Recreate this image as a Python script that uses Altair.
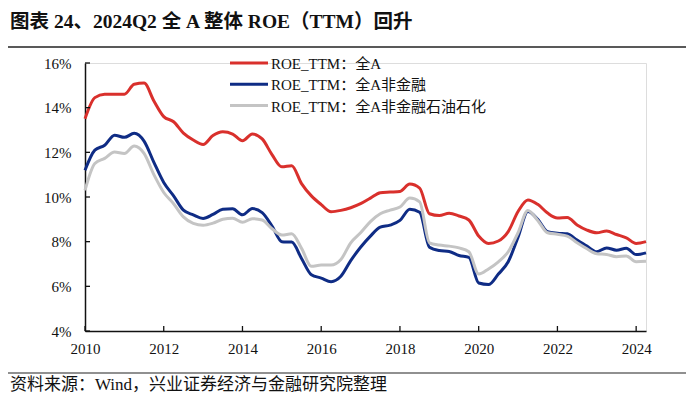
import altair as alt
import pandas as pd

years = [2010 + 0.25 * i for i in range(58)]

series_names = ["ROE_TTM：全A", "ROE_TTM：全A非金融", "ROE_TTM：全A非金融石油石化"]

roe_all = [13.5, 14.45, 14.6, 14.6, 14.6, 15.05, 15.1, 14.3, 13.6, 13.37,
           12.86, 12.55, 12.35, 12.75, 12.92, 12.82, 12.52, 12.82, 12.6, 11.9,
           11.35, 11.4, 10.6, 10.05, 9.66, 9.34, 9.4, 9.52, 9.7, 9.95,
           10.19, 10.22, 10.25, 10.58, 10.4, 9.25, 9.17, 9.27, 9.15, 8.97,
           8.25, 7.92, 8.03, 8.45, 9.35, 9.87, 9.67, 9.28, 9.06, 9.08,
           8.75, 8.52, 8.4, 8.48, 8.32, 8.17, 7.92, 8.0]

roe_nonfin = [11.2, 12.1, 12.32, 12.77, 12.67, 12.85, 12.5, 11.55, 10.65, 10.05,
              9.41, 9.2, 9.04, 9.22, 9.45, 9.47, 9.2, 9.48, 9.3, 8.7,
              8.0, 7.98, 7.25, 6.52, 6.37, 6.21, 6.45, 7.15, 7.75, 8.25,
              8.65, 8.74, 8.95, 9.45, 9.32, 7.75, 7.6, 7.56, 7.38, 7.3,
              6.15, 6.08, 6.55, 7.1, 8.2, 9.35, 9.0, 8.45, 8.38, 8.35,
              8.07, 7.8, 7.55, 7.72, 7.62, 7.7, 7.42, 7.5]

roe_nonfin_nonpetro = [10.3, 11.5, 11.73, 12.02, 11.95, 12.28, 11.95, 11.0, 10.2, 9.7,
                       9.11, 8.82, 8.74, 8.83, 9.0, 9.05, 8.87, 9.03, 8.97, 8.58,
                       8.3, 8.35, 7.7, 6.9, 6.95, 6.95, 7.2, 7.95, 8.4, 8.9,
                       9.25, 9.41, 9.55, 9.95, 9.78, 7.95, 7.85, 7.8, 7.72, 7.55,
                       6.55, 6.78, 7.1, 7.55, 8.4, 9.4, 8.95, 8.4, 8.33, 8.25,
                       7.95, 7.68, 7.46, 7.43, 7.33, 7.36, 7.1, 7.12]

x_ticks = [2010, 2012, 2014, 2016, 2018, 2020, 2022, 2024]
y_ticks = [4, 6, 8, 10, 12, 14, 16]
colors = ["#D9302C", "#0F2C85", "#C4C4C4"]

title_text = "图表 24、2024Q2 全 A 整体 ROE（TTM）回升"
source_text = "资料来源：Wind，兴业证券经济与金融研究院整理"

rows = []
for name, vals in zip(series_names, [roe_all, roe_nonfin, roe_nonfin_nonpetro]):
    for t, v in zip(years, vals):
        rows.append({"t": t, "v": v, "s": name})
df = pd.DataFrame(rows)

SERIF = "Liberation Serif, Noto Sans CJK SC"
W, H = 561, 268

xscale = alt.Scale(domain=[2010, 2024.25], nice=False, zero=False)
yscale = alt.Scale(domain=[4, 16], nice=False, zero=False)

lines = alt.Chart(df).mark_line(strokeWidth=3, interpolate="monotone").encode(
    x=alt.X("t:Q", scale=xscale,
            axis=alt.Axis(values=x_ticks, format="d", title=None, grid=False,
                          ticks=False, labelFont=SERIF, labelFontSize=15,
                          labelColor="#111", labelPadding=10, labelFlush=False,
                          domainColor="#111", domainWidth=1.5)),
    y=alt.Y("v:Q", scale=yscale,
            axis=alt.Axis(values=y_ticks, title=None, grid=False, ticks=False,
                          labelExpr="datum.value + '%'", labelFont=SERIF,
                          labelFontSize=15, labelColor="#111", labelPadding=14,
                          labelFlush=False,
                          domainColor="#111", domainWidth=1.5)),
    color=alt.Color("s:N", scale=alt.Scale(domain=series_names, range=colors),
                    legend=None),
    order=alt.Order("t:Q"),
)

xt = pd.DataFrame({"t": x_ticks})
yt = pd.DataFrame({"v": y_ticks})

xtick_marks = alt.Chart(xt).mark_rule(color="#111", strokeWidth=1.3).encode(
    x=alt.X("t:Q", scale=xscale), y=alt.value(H), y2=alt.value(H - 5))
ytick_marks = alt.Chart(yt).mark_rule(color="#111", strokeWidth=1.3).encode(
    y=alt.Y("v:Q", scale=yscale), x=alt.value(0), x2=alt.value(5))

# manual legend (three rows)
legend_layers = []
for i, (name, col) in enumerate(zip(series_names, colors)):
    d = pd.DataFrame({"s": [name]})
    legend_layers.append(alt.Chart(d).mark_rule(color=col, strokeWidth=3).encode(
        x=alt.value(145), x2=alt.value(183), y=alt.value(i * 21.3)))
    legend_layers.append(alt.Chart(d).mark_text(
        align="left", baseline="middle", font=SERIF, fontSize=15,
        color="#111").encode(text="s:N", x=alt.value(186),
                             y=alt.value(i * 21.3 + 1)))

deco = pd.DataFrame({"k": ["a"]})
title_mark = alt.Chart(deco).mark_text(
    text=title_text, align="left", baseline="middle", font=SERIF,
    fontSize=19.5, fontWeight="bold", color="#111").encode(
    x=alt.value(-75), y=alt.value(-41))
top_line = alt.Chart(deco).mark_rule(color="#222", strokeWidth=1.5).encode(
    x=alt.value(-77), x2=alt.value(601), y=alt.value(-16))
bottom_line = alt.Chart(deco).mark_rule(color="#222", strokeWidth=1.2).encode(
    x=alt.value(-77), x2=alt.value(601), y=alt.value(310))
source_mark = alt.Chart(deco).mark_text(
    text=source_text, align="left", baseline="middle", font=SERIF,
    fontSize=17, color="#111").encode(x=alt.value(-75), y=alt.value(322))

chart = alt.layer(lines, xtick_marks, ytick_marks, *legend_layers, title_mark,
                  top_line, bottom_line, source_mark).properties(
    width=W, height=H, autosize=alt.AutoSizeParams(type="none"),
    padding={"left": 77, "top": 55, "right": 40, "bottom": 75},
).configure_view(stroke=None).configure(background="white")

chart.save("out.html", embed_options={"renderer": "svg", "actions": False})
